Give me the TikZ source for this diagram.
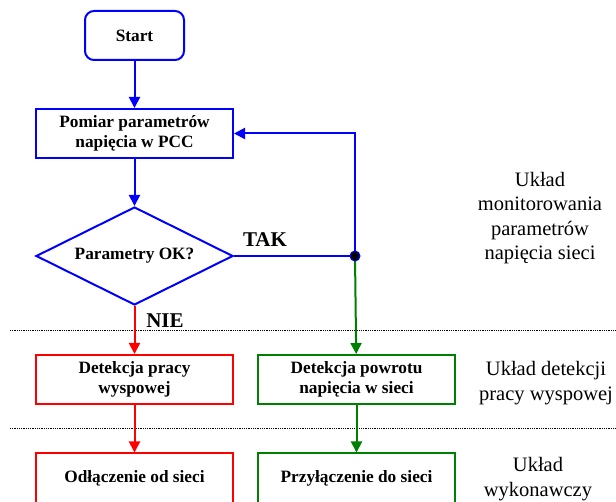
\documentclass[tikz,border=0pt]{standalone}
\usepackage{fontspec}
\setmainfont{Liberation Serif}
\usetikzlibrary{calc,shapes.geometric,arrows.meta}
\definecolor{okgreen}{RGB}{0,128,0}

\begin{document}
\begin{tikzpicture}[x=1pt,y=-1pt,terminal/.style={draw=blue,line width=2pt,rounded corners=9pt,minimum width=99pt,minimum height=49pt,font=\bfseries\fontsize{17.3}{20}\selectfont},block/.style={draw,line width=2pt,minimum width=197pt,minimum height=49pt,align=center,font=\bfseries\fontsize{17.3}{20.5}\selectfont},decision/.style={draw=blue,diamond,aspect=2,line width=2pt,minimum width=197pt,minimum height=98pt,inner sep=0pt,font=\bfseries\fontsize{17.3}{20}\selectfont},unitlabel/.style={align=center,font=\fontsize{20.5}{24.5}\selectfont},answer/.style={font=\bfseries\fontsize{21}{24}\selectfont},arrow/.style={-{Triangle[length=11pt,width=11pt]},line width=2pt},divider/.style={densely dotted,line width=0.8pt}]
  \useasboundingbox (0,0) rectangle (616,502);
  \node[terminal] (start) at (134.5,35.5) {Start};
  \node[block,draw=blue] (pomiar) at ($ (start) + (0,98) $) {Pomiar parametrów\\napięcia w PCC};
  \node[decision] (ok) at ($ (pomiar) + (0,122.5) $) {Parametry OK?};
  \node[block,draw=red] (wysp) at ($ (ok) + (0,123.5) $) {Detekcja pracy\\wyspowej};
  \node[block,draw=okgreen] (powrot) at ($ (wysp) + (222,0) $) {Detekcja powrotu\\napięcia w sieci};
  \node[block,draw=red] (odl) at ($ (wysp) + (0,98.5) $) {Odłączenie od sieci};
  \node[block,draw=okgreen] (przyl) at ($ (powrot) + (0,98.5) $) {Przyłączenie do sieci};
  \coordinate (junction) at ($ (powrot.north |- ok.east) + (-1.5,0) $);
  \node[answer] (tak) at (265,240) {TAK};
  \node[answer] (nie) at (165,321) {NIE};
  \node[unitlabel] (monitor) at (540,218) {Układ\\monitorowania\\parametrów\\napięcia sieci};
  \node[unitlabel] (detekcja) at (546,383) {Układ detekcji\\pracy wyspowej};
  \node[unitlabel] (wykon) at (538,479) {Układ\\wykonawczy};
  \draw[divider] (10,330) -- (616,330);
  \draw[divider] (10,428) -- (616,428);
  \draw[arrow,blue] (start) -- (pomiar);
  \draw[arrow,blue] (pomiar) -- (ok);
  \draw[line width=2pt,blue] (ok.east) -- (junction);
  \draw[arrow,blue] (junction) |- (pomiar.east);
  \draw[arrow,okgreen] (junction) -- (powrot);
  \draw[arrow,red] (ok.south) -- (wysp);
  \draw[arrow,red] (wysp) -- (odl);
  \draw[arrow,okgreen] (powrot) -- (przyl);
  \filldraw[fill=black,draw=blue,line width=1pt] (junction) circle (5);
\end{tikzpicture}
\end{document}
